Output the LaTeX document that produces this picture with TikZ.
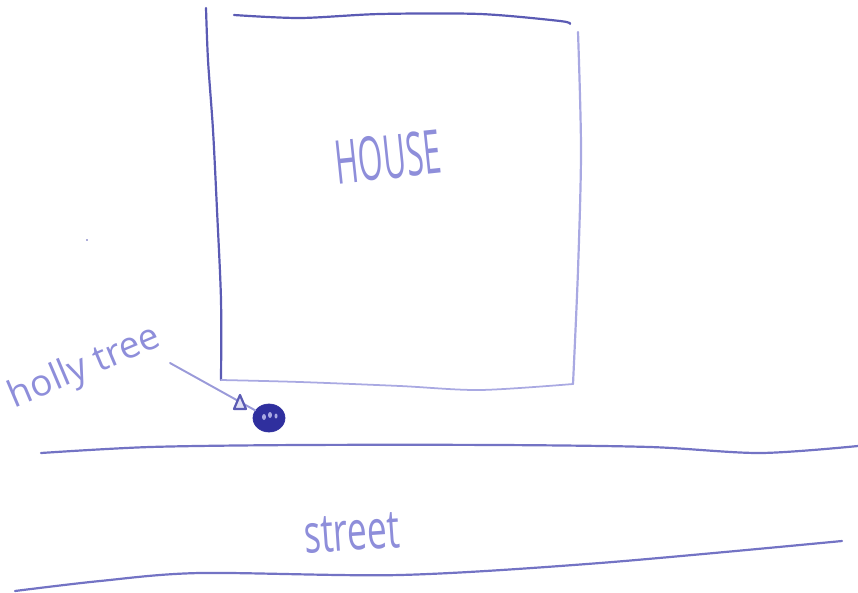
\documentclass[tikz,border=0pt]{standalone}
\usepackage{fontspec}
\usetikzlibrary{shapes.geometric}
\setmainfont{Open Sans}
\begin{document}
\begin{tikzpicture}[x=0.02cm,y=-0.02cm,
  ink/.style={line width=1.25pt,line cap=round,line join=round},
  hand/.style={text=labelink,inner sep=0pt},
]
\definecolor{labelink}{HTML}{8E8EDA}
\definecolor{darkink}{HTML}{5B5BB4}
\definecolor{midink}{HTML}{7373C4}
\definecolor{paleink}{HTML}{A9A9E2}
\definecolor{blob}{HTML}{2F2F9E}
\useasboundingbox (0,0) rectangle (858,592);
% speck on the paper
\fill[darkink] (87,240) circle (0.8);
% house
\draw[ink,darkink] plot[smooth,tension=0.5] coordinates {(206,8) (208,60) (213,130) (217,210) (221,300) (221,380)};
\draw[ink,darkink] plot[smooth,tension=0.5] coordinates {(234,15) (300,18) (380,14) (480,14) (560,21) (570,24)};
\draw[ink,paleink] plot[smooth,tension=0.5] coordinates {(578,32) (581,150) (578,270) (573,384)};
\draw[ink,paleink,line width=1pt] plot[smooth,tension=0.5] coordinates {(221,380) (300,382) (400,386) (480,390) (573,384)};
% street
\draw[ink,midink] plot[smooth,tension=0.5] coordinates {(41,453) (150,447) (300,445) (500,445) (650,447) (760,453) (858,446)};
\draw[ink,midink] plot[smooth,tension=0.5] coordinates {(15,591) (100,581) (200,573) (400,575) (600,563) (842,541)};
% tree
\node[draw=blob,fill=blob,ellipse,minimum width=0.64cm,minimum height=0.56cm,inner sep=0pt] (tree) at (269,418) {};
\fill[paleink] (264,417) ellipse (2 and 3) (270,415) ellipse (2 and 3) (276,416) ellipse (1.5 and 2.5);
% arrow
\coordinate (start) at (170,363);
\draw[ink,paleink!80!darkink,line width=1.1pt] (start) -- (tree);
\draw[ink,darkink,fill=paleink!35] (240,395) -- (246,409) -- (234,409) -- cycle;
% labels
\node[hand,rotate=6,xscale=0.6,yscale=1.15,font=\fontsize{30}{30}\selectfont] (house) at (388,157) {HOUSE};
\node[hand,rotate=4,xscale=0.72,yscale=1.1,font=\fontsize{28}{28}\selectfont] (street) at (352,533) {street};
\node[hand,rotate=23,font=\fontsize{21}{21}\selectfont] (holly) at (85,368) {holly tree};
\end{tikzpicture}
\end{document}
